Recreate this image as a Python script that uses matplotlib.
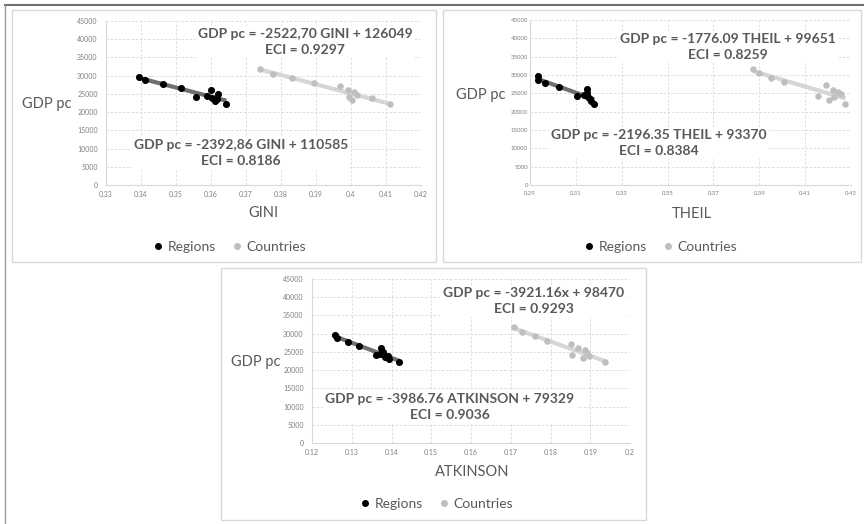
import numpy as np
import matplotlib
matplotlib.use('Agg')
import matplotlib.pyplot as plt
from matplotlib.lines import Line2D
from matplotlib.patches import Rectangle

plt.rcParams['font.family'] = ['Lato', 'DejaVu Sans']

# GDP per capita, shared by the three panels
regions_gdp = [29600, 28700, 27700, 26700, 24200, 24500, 26200, 23900, 23000, 25100, 23500, 22200]
countries_gdp = [31700, 30500, 29300, 28000, 27300, 26000, 24200, 23300, 25400, 24800, 23900, 22100]

# inequality indices
gini_regions = [0.3395, 0.341, 0.3462, 0.3514, 0.3557, 0.3588, 0.360, 0.3602, 0.3611, 0.3621, 0.3616, 0.3644]
gini_countries = [0.3741, 0.3776, 0.3831, 0.3893, 0.3969, 0.3990, 0.3995, 0.4004, 0.4009, 0.4016, 0.4059, 0.4111]

theil_regions = [0.2935, 0.2935, 0.2965, 0.3025, 0.3105, 0.3135, 0.315, 0.3155, 0.3165, 0.315, 0.316, 0.318]
theil_countries = [0.3874, 0.390, 0.3951, 0.4009, 0.4191, 0.422, 0.4155, 0.4206, 0.4242, 0.4257, 0.4228, 0.4276]

atk_regions = [0.1258, 0.1264, 0.129, 0.1318, 0.1362, 0.1371, 0.1373, 0.139, 0.1394, 0.1379, 0.1383, 0.1419]
atk_countries = [0.1708, 0.1728, 0.176, 0.1792, 0.1851, 0.1869, 0.1854, 0.1882, 0.1886, 0.1893, 0.1896, 0.1936]

gini_ticks = [0.33, 0.34, 0.35, 0.36, 0.37, 0.38, 0.39, 0.40, 0.41, 0.42]
theil_ticks = [0.29, 0.31, 0.33, 0.35, 0.37, 0.39, 0.41, 0.43]
atk_ticks = [0.12, 0.13, 0.14, 0.15, 0.16, 0.17, 0.18, 0.19, 0.20]
gdp_ticks = [0, 5000, 10000, 15000, 20000, 25000, 30000, 35000, 40000, 45000]

regions_fit_text = ['GDP pc = -2392,86 GINI + 110585\nECI = 0.8186',
                    'GDP pc = -2196.35 THEIL + 93370\nECI = 0.8384',
                    'GDP pc = -3986.76 ATKINSON + 79329\nECI = 0.9036']
countries_fit_text = ['GDP pc = -2522,70 GINI + 126049\nECI = 0.9297',
                      'GDP pc = -1776.09 THEIL + 99651\nECI = 0.8259',
                      'GDP pc = -3921.16x + 98470\nECI = 0.9293']
x_names = ['GINI', 'THEIL', 'ATKINSON']

W, H = 864, 524
TXT = '#595959'
GRID = '#d9d9d9'


def fx(px):
    return px / W


def fy(py):
    return 1 - py / H


fig = plt.figure(figsize=(W / 100, H / 100), dpi=100)

# outer frame lines
fig.add_artist(Line2D([fx(5), 1], [fy(5), fy(5)], color='#6e6e6e', lw=1.5))
fig.add_artist(Line2D([fx(5), fx(5)], [0, fy(5)], color='#9a9a9a', lw=1.0))

# panel layout in pixels: frame (l, t, r, b), axes (l, t, r, b)
panels = [
    dict(frame=(12, 10, 436, 262), axes=(106, 21, 421, 185), ylab=(47, 104),
         xlab=(263, 213), leg=(230, 247), up=(305, 42), low=(241, 153),
         tsize=5, ypad=6),
    dict(frame=(443, 10, 861, 262), axes=(530, 20, 851, 185), ylab=(481, 95),
         xlab=(692, 214), leg=(661, 247), up=(728, 47), low=(659, 143),
         tsize=4.3, ypad=1.5),
    dict(frame=(221, 268, 646, 520), axes=(312, 279, 630, 443), ylab=(256, 362),
         xlab=(472, 472), leg=(437, 504), up=(534, 301), low=(450, 407),
         tsize=5, ypad=6),
]

data = [
    (gini_regions, gini_countries, gini_ticks),
    (theil_regions, theil_countries, theil_ticks),
    (atk_regions, atk_countries, atk_ticks),
]

for i, (p, (xr, xc, ticks)) in enumerate(zip(panels, data)):
    l, t, r, b = p['frame']
    fig.add_artist(Rectangle((fx(l), fy(b)), (r - l) / W, (b - t) / H,
                             transform=fig.transFigure, fill=False,
                             edgecolor=GRID, lw=1))

    al, at, ar, ab = p['axes']
    ax = fig.add_axes([fx(al), fy(ab), (ar - al) / W, (ab - at) / H])

    # trendlines
    for xs, ys, col in [(xr, regions_gdp, '#6f6f6f'), (xc, countries_gdp, '#d6d6d6')]:
        k, c = np.polyfit(xs, ys, 1)
        xx = np.array([min(xs), max(xs)])
        ax.plot(xx, k * xx + c, color=col, lw=3, solid_capstyle='butt', zorder=2)

    ax.scatter(xr, regions_gdp, s=26, color='black', zorder=3, linewidths=0)
    ax.scatter(xc, countries_gdp, s=22, color='#bfbfbf', zorder=3, linewidths=0)

    ax.set_xlim(ticks[0], ticks[-1])
    ax.set_ylim(0, 45000)
    ax.set_xticks(ticks)
    ax.set_xticklabels(['{:g}'.format(v) for v in ticks])
    ax.set_yticks(gdp_ticks)
    ax.set_yticklabels([str(v) for v in gdp_ticks])
    ax.tick_params(length=0, labelsize=p['tsize'], labelcolor='#7f7f7f')
    ax.tick_params(axis='x', pad=4)
    ax.tick_params(axis='y', pad=p['ypad'])
    ax.grid(True, color=GRID, lw=0.6, linestyle=(0, (3, 2)))
    ax.set_axisbelow(True)
    for s in ['top', 'right']:
        ax.spines[s].set_visible(False)
    for s in ['left', 'bottom']:
        ax.spines[s].set_color(GRID)
        ax.spines[s].set_linewidth(0.8)

    fig.text(fx(p['ylab'][0]), fy(p['ylab'][1]), 'GDP pc', ha='center', va='center',
             fontsize=10.5, color=TXT)
    fig.text(fx(p['xlab'][0]), fy(p['xlab'][1]), x_names[i], ha='center', va='center',
             fontsize=10.5, color=TXT)

    for pos, txt in [(p['up'], countries_fit_text[i]), (p['low'], regions_fit_text[i])]:
        fig.text(fx(pos[0]), fy(pos[1]), txt, ha='center', va='center',
                 multialignment='center', fontsize=10, fontweight='bold',
                 color=TXT, linespacing=1.35, zorder=5,
                 bbox=dict(facecolor='white', edgecolor='none', pad=1.5))

    handles = [Line2D([], [], marker='o', ls='', color='black', markersize=4),
               Line2D([], [], marker='o', ls='', color='#bfbfbf', markersize=4)]
    fig.legend(handles, ['Regions', 'Countries'], loc='center',
               bbox_to_anchor=(fx(p['leg'][0]), fy(p['leg'][1])),
               bbox_transform=fig.transFigure, ncol=2, frameon=False,
               fontsize=10, labelcolor=TXT, handlelength=0.6, handletextpad=0.4,
               columnspacing=1.2, borderpad=0)

fig.savefig('out.png', dpi=100)
